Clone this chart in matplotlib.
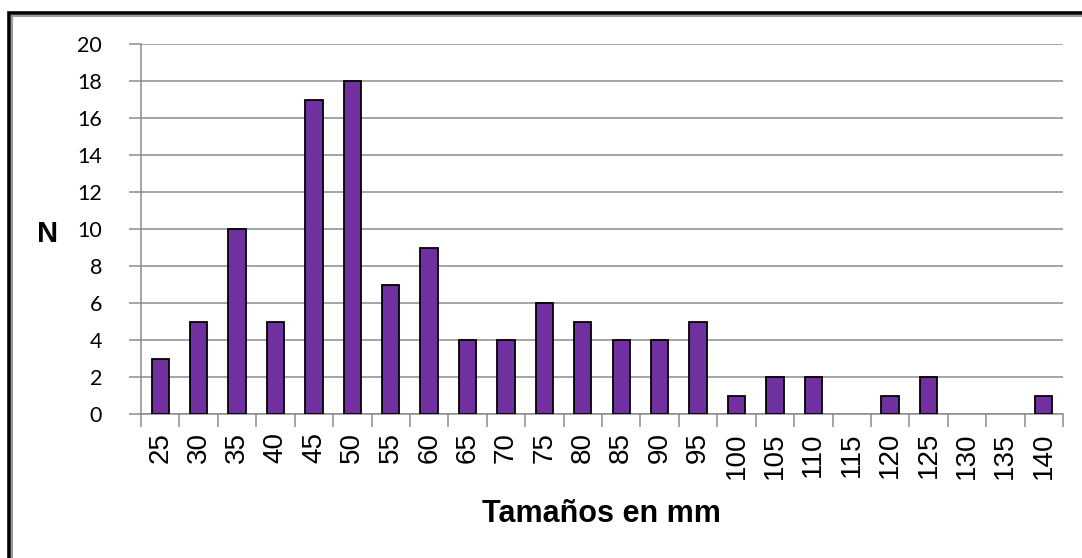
import matplotlib
matplotlib.use('Agg')
import matplotlib.pyplot as plt
from matplotlib.patches import Rectangle
import numpy as np

sizes = ['25', '30', '35', '40', '45', '50', '55', '60', '65', '70', '75', '80',
         '85', '90', '95', '100', '105', '110', '115', '120', '125', '130', '135', '140']
counts = [3, 5, 10, 5, 17, 18, 7, 9, 4, 4, 6, 5, 4, 4, 5, 1, 2, 2, 0, 1, 2, 0, 0, 1]
yticks = list(range(0, 21, 2))

W, H = 1082, 558
fig = plt.figure(figsize=(W / 100, H / 100), dpi=100)

# chart frame (black outer, grey inner), runs off right/bottom
fig.add_artist(Rectangle((8.5 / W, -0.1), 1.2, (H - 12.5) / H + 0.1, transform=fig.transFigure,
                         fill=False, edgecolor='black', lw=2.6))
fig.add_artist(Rectangle((12 / W, -0.1), 1.2, (H - 16) / H + 0.1, transform=fig.transFigure,
                         fill=False, edgecolor='#9a9a9a', lw=1.5))

ax = fig.add_axes([141 / W, (H - 414) / H, (1063 - 141) / W, (414 - 44) / H])
x = np.arange(len(sizes))
# no outline on empty classes
edges = [1.3 if c > 0 else 0 for c in counts]
ax.bar(x, counts, width=0.45, color='#7030A0', edgecolor='black', linewidth=edges, zorder=3)

ax.set_xlim(-0.5, len(sizes) - 0.5)
ax.set_ylim(0, 20)
ax.set_yticks(yticks)
ax.set_yticklabels([str(v) for v in yticks], fontname='Lato', fontsize=15.5)
ax.yaxis.grid(True, color='#8c8c8c', lw=1.1, zorder=0)
ax.tick_params(axis='y', length=9, color='#8c8c8c', width=1.1, pad=19)

ax.set_xticks(x)
ax.set_xticklabels(sizes, rotation=90, fontname='Liberation Sans', fontsize=20)
ax.set_xticks(np.arange(len(sizes) + 1) - 0.5, minor=True)
ax.tick_params(axis='x', which='major', length=0, pad=13)
ax.tick_params(axis='x', which='minor', length=9, color='#8c8c8c', width=1.1)

for s in ['top', 'right']:
    ax.spines[s].set_visible(False)
for s in ['left', 'bottom']:
    ax.spines[s].set_color('#8c8c8c')
    ax.spines[s].set_linewidth(1.1)

fig.text(48 / W, 1 - 234 / H, 'N', fontname='Liberation Sans', fontweight='bold',
         fontsize=21, ha='center', va='center')
fig.text(601 / W, 1 - 514 / H, 'Tamaños en mm', fontname='Liberation Sans',
         fontweight='bold', fontsize=22, ha='center', va='center')

fig.savefig('out.png', dpi=100)
